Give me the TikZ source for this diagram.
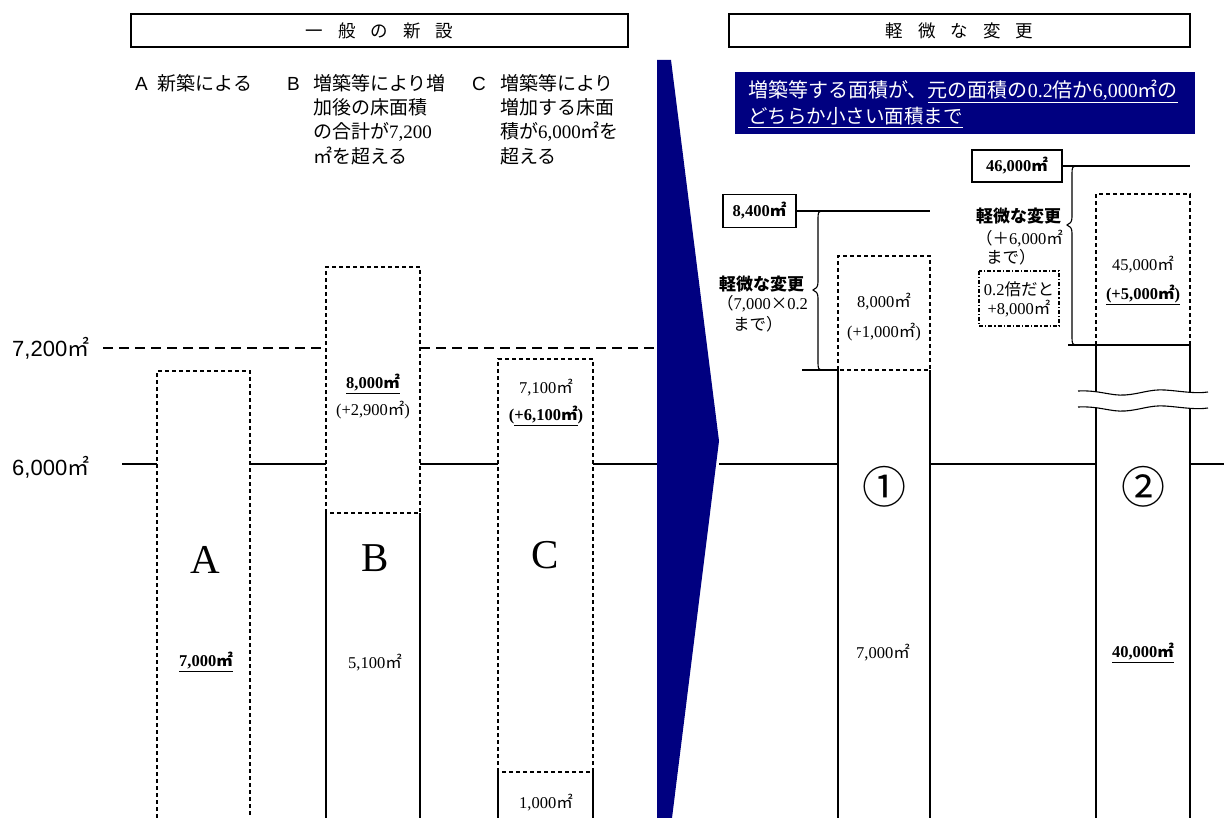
\documentclass[tikz,border=0pt]{standalone}
\usepackage{fontspec}
\setmainfont{Liberation Serif}
\newfontfamily\jp{Noto Sans CJK JP}
\newfontfamily\arl{Liberation Sans}
\newcommand\sqm{{\jp ㎡}}
\definecolor{navy}{HTML}{000080}
\tikzset{
  thinln/.style={line width=1.1pt},
  refln/.style={line width=2.2pt},
  dline/.style={line width=2.4pt, dash pattern=on 10pt off 6pt},
  dbox/.style={line width=1.5pt, dash pattern=on 4pt off 3pt},
  ddbox/.style={line width=1.5pt, dash pattern=on 4pt off 2pt on 1.2pt off 2pt},
  jl/.style={font=\jp\fontsize{19}{24}\selectfont, inner sep=0, anchor=base west},
  num/.style={font=\fontsize{16.5}{18}\selectfont, inner sep=0},
  big/.style={font=\fontsize{41}{41}\selectfont, inner sep=0},
  circ/.style={font=\jp\fontsize{44}{44}\selectfont, inner sep=0},
  sm/.style={font=\jp\fontsize{16.5}{20}\selectfont, inner sep=0, anchor=base west},
  hdr/.style={draw, line width=1.1pt, inner sep=0, font=\jp\fontsize{17.5}{20}\selectfont},
}
\begin{document}
\begin{tikzpicture}[x=1pt,y=-1pt]
\useasboundingbox (0,0) rectangle (1224,818);
% headers
\node[hdr, minimum width=497pt, minimum height=33pt] (h1) at (379.5,30.5) {一\hspace{15pt}般\hspace{15pt}の\hspace{15pt}新\hspace{15pt}設};
\node[hdr, minimum width=461pt, minimum height=33pt] (h2) at (959.5,30.5) {軽\hspace{15pt}微\hspace{15pt}な\hspace{15pt}変\hspace{15pt}更};
% left labels
\node[jl] (la) at (135,91) {{\arl A}\hspace{10pt}新築による};
\node[jl] (lb0) at (287,91) {{\arl B}};
\node[jl] (lb1) at (313,91) {増築等により増};
\node[jl] (lb2) at (313,115) {加後の床面積};
\node[jl] (lb3) at (313,139) {の合計が{\rmfamily 7,200}};
\node[jl] (lb4) at (313,164) {㎡を超える};
\node[jl] (lc0) at (472,91) {{\arl C}};
\node[jl] (lc1) at (500,91) {増築等により};
\node[jl] (lc2) at (500,115) {増加する床面};
\node[jl] (lc3) at (500,139) {積が{\rmfamily 6,000}㎡を};
\node[jl] (lc4) at (500,164) {超える};
% axis labels
\node[font=\arl\fontsize{22}{24}\selectfont, inner sep=0, anchor=west] (y72) at (12,348) {7,200\sqm};
\node[font=\arl\fontsize{22}{24}\selectfont, inner sep=0, anchor=west] (y60) at (12,467) {6,000\sqm};
% reference lines
\draw[dline] (103,348) -- (326,348);
\draw[dline] (420,348) -- (655,348);
\draw[refln] (122,464) -- (157,464) (250,464) -- (326,464) (420,464) -- (498,464) (593,464) -- (657,464)
  (719,464) -- (838,464) (930,464) -- (1096,464) (1190,464) -- (1224,464);
% box A
\draw[dbox] (157,818) -- (157,371) -- (250,371) -- (250,818);
% box B
\draw[dbox] (326,513) -- (326,267) -- (420,267) -- (420,513) -- cycle;
\draw[thinln] (326,513) -- (326,818) (420,513) -- (420,818);
% box C
\draw[dbox] (498,772) -- (498,359) -- (593,359) -- (593,772) -- cycle;
\draw[thinln] (498,772) -- (498,818) (593,772) -- (593,818);
% arrow
\fill[navy] (657,60) -- (671,60) -- (719,441) -- (672,818) -- (657,818) -- cycle;
% texts in left boxes
\node[big] (tA) at (205,560) {A};
\node[num] (nA) at (206,662) {\underline{\textbf{7,000}{\jp\bfseries ㎡}}};
\node[num] (nB1) at (373,384) {\underline{\textbf{8,000}{\jp\bfseries ㎡}}};
\node[num] (nB2) at (373,410) {(+2,900\sqm)};
\node[big] (tB) at (375,558) {B};
\node[num] (nB3) at (375,663) {5,100\sqm};
\node[num] (nC1) at (546,388) {7,100\sqm};
\node[num] (nC2) at (546,416) {\textbf{(\underline{+6,100{\jp\bfseries ㎡}})}};
\node[big] (tC) at (545,555) {C};
\node[num] (nC3) at (546,803) {1,000\sqm};
% blue box
\fill[navy] (735,72) rectangle (1195,134);
\node[font=\jp\fontsize{20}{24}\selectfont, text=white, inner sep=0, anchor=base west] (bl1) at (748,98)
  {増築等する面積が、\underline{元の面積の{\rmfamily 0.2}倍か{\rmfamily 6,000}㎡の}};
\node[font=\jp\fontsize{19.5}{24}\selectfont, text=white, inner sep=0, anchor=base west] (bl2) at (748,124)
  {\underline{どちらか小さい面積まで}};
% right: box 1
\node[draw, thinln, minimum width=73pt, minimum height=33pt, inner sep=0, font=\fontsize{16.5}{18}\selectfont] (k84) at (759.5,211) {\textbf{8,400}{\jp\bfseries ㎡}};
\draw[thinln] (k84.east) -- (930,211);
\draw[thinln] (802,370) -- (838,370);
\draw[thinln] (823,211) .. controls (818,211) and (818,213) .. (818,219) -- (818,282)
  .. controls (818,287) and (816,289) .. (813,290) .. controls (816,291) and (818,293) .. (818,298)
  -- (818,362) .. controls (818,368) and (818,370) .. (823,370);
\node[font=\jp\bfseries\fontsize{17}{20}\selectfont, inner sep=0, anchor=base west] (kb1) at (719,291) {軽微な変更};
\node[sm] (kb2) at (717,310) {（{\rmfamily 7,000}×{\rmfamily 0.2}};
\node[sm] (kb3) at (733,331) {まで）};
\draw[dbox] (838,370) -- (838,256) -- (930,256) -- (930,370) -- cycle;
\draw[thinln] (838,370) -- (838,818) (930,370) -- (930,818);
\node[num] (n11) at (884,302) {8,000\sqm};
\node[num] (n12) at (884,332) {(+1,000\sqm)};
\node[circ] (c1) at (884,487) {①};
\node[num] (n13) at (883,653) {7,000\sqm};
% right: box 2
\node[draw, thinln, minimum width=90pt, minimum height=32pt, inner sep=0, font=\fontsize{16.5}{18}\selectfont] (k46) at (1017,166) {\textbf{46,000}{\jp\bfseries ㎡}};
\draw[thinln] (k46.east) -- (1190,166);
\draw[thinln] (1068,345) -- (1190,345);
\draw[thinln] (1077,166) .. controls (1072,166) and (1072,168) .. (1072,174) -- (1072,217)
  .. controls (1072,222) and (1070,224) .. (1067,225) .. controls (1070,226) and (1072,228) .. (1072,233)
  -- (1072,337) .. controls (1072,343) and (1072,345) .. (1077,345);
\node[font=\jp\bfseries\fontsize{17}{20}\selectfont, inner sep=0, anchor=base west] (kr1) at (976,223) {軽微な変更};
\node[sm] (kr2) at (976,245) {（＋{\rmfamily 6,000}㎡};
\node[sm] (kr3) at (986,264) {まで）};
\draw[ddbox] (979,271) rectangle (1059,326);
\node[font=\jp\fontsize{16.5}{20}\selectfont, inner sep=0] (kr4) at (1019,289) {{\rmfamily 0.2}倍だと};
\node[font=\fontsize{16.5}{18}\selectfont, inner sep=0] (kr5) at (1019,309) {+8,000\sqm};
\draw[dbox] (1096,345) -- (1096,194) -- (1190,194) -- (1190,345);
\draw[thinln] (1096,345) -- (1096,818) (1190,345) -- (1190,818);
% wave break
\fill[white] (1078,391) .. controls (1100,390) and (1110,396) .. (1125,395) .. controls (1140,394) and (1150,389) .. (1165,390) .. controls (1180,391) and (1195,394) .. (1208,392)
  -- (1208,408) .. controls (1195,410) and (1180,407) .. (1165,406) .. controls (1150,405) and (1140,410) .. (1125,411) .. controls (1110,412) and (1100,406) .. (1078,407) -- cycle;
\draw[thinln] (1078,391) .. controls (1100,390) and (1110,396) .. (1125,395) .. controls (1140,394) and (1150,389) .. (1165,390) .. controls (1180,391) and (1195,394) .. (1208,392);
\draw[thinln] (1078,407) .. controls (1100,406) and (1110,412) .. (1125,411) .. controls (1140,410) and (1150,405) .. (1165,406) .. controls (1180,407) and (1195,410) .. (1208,408);
\node[num] (n21) at (1143,265) {45,000\sqm};
\node[num] (n22) at (1143,295) {\underline{\textbf{(+5,000}{\jp\bfseries ㎡}\textbf{)}}};
\node[circ] (c2) at (1143,487) {②};
\node[num] (n23) at (1143,653) {\underline{\textbf{40,000}{\jp\bfseries ㎡}}};
\end{tikzpicture}
\end{document}
